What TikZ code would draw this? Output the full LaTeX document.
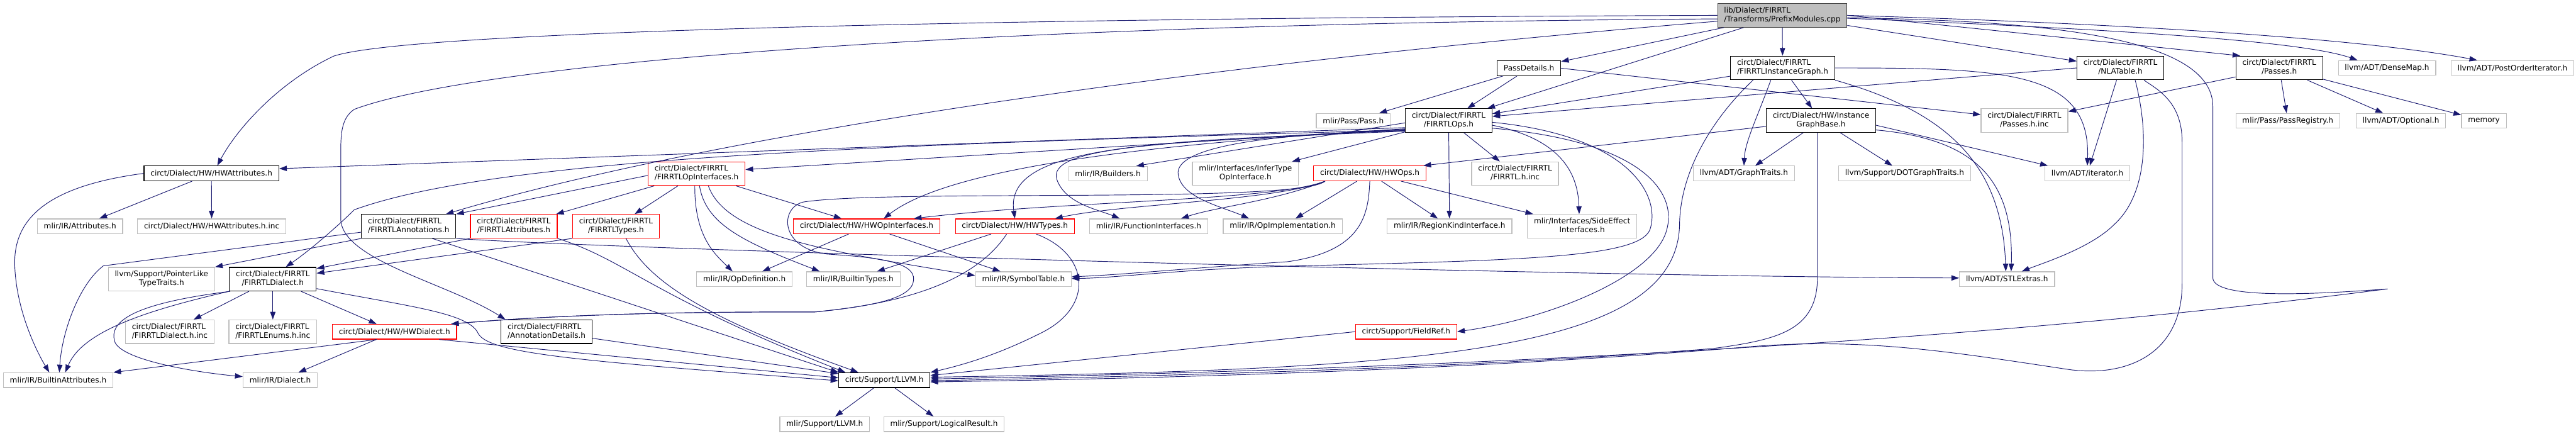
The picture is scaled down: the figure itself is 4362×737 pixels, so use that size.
\documentclass[tikz,border=0pt]{standalone}
\usepackage{fontspec}
\setmainfont{DejaVu Sans}
\usetikzlibrary{arrows.meta}
\definecolor{edgeblue}{HTML}{191970}
\definecolor{extgray}{HTML}{BFBFBF}
\definecolor{rootfill}{HTML}{BFBFBF}
\definecolor{rootline}{HTML}{404040}
\definecolor{truncred}{HTML}{FF0000}
% first line left, last line centred (as in the graph labels)
\newcommand{\flab}[2]{\begin{tabular}{@{}l@{}}#1\\\multicolumn{1}{@{}c@{}}{#2}\end{tabular}}

\begin{document}
\begin{tikzpicture}[x=1pt, y=-1pt,
  every node/.style={draw, rectangle, fill=white, line width=1.3pt, inner xsep=11pt, inner ysep=3pt,
    minimum height=25pt, font=\fontsize{12.9}{15}\selectfont},
  doc/.style={draw=black},
  ext/.style={draw=extgray},
  trunc/.style={draw=truncred},
  two/.style={minimum height=40pt},
  rootfile/.style={draw=rootline, fill=rootfill},
  dep/.style={draw=edgeblue, line width=1pt, -{Triangle[length=13pt,width=9pt]}}
]
\useasboundingbox (0,0) rectangle (4362,737);

\node[rootfile, two] (root) at (3018,26) {\flab{lib/Dialect/FIRRTL}{/Transforms/PrefixModules.cpp}};

\node[doc] (passDetails) at (2589,115.5) {PassDetails.h};
\node[doc, two] (instGraph) at (3018.5,115) {\flab{circt/Dialect/FIRRTL}{/FIRRTLInstanceGraph.h}};
\node[doc, two] (nlaTable) at (3590.5,115) {\flab{circt/Dialect/FIRRTL}{/NLATable.h}};
\node[doc, two] (passes) at (3859.5,115) {\flab{circt/Dialect/FIRRTL}{/Passes.h}};
\node[ext] (denseMap) at (4042,115) {llvm/ADT/DenseMap.h};
\node[ext] (postOrder) at (4254.5,115) {llvm/ADT/PostOrderIterator.h};

\node[ext] (pass) at (2291.5,204.5) {mlir/Pass/Pass.h};
\node[doc, two] (firOps) at (2453,204) {\flab{circt/Dialect/FIRRTL}{/FIRRTLOps.h}};
\node[doc, two] (instGraphBase) at (3083.5,204) {\flab{circt/Dialect/HW/Instance}{GraphBase.h}};
\node[ext, two] (passesInc) at (3428,204) {\flab{circt/Dialect/FIRRTL}{/Passes.h.inc}};
\node[ext] (passRegistry) at (3874,204.5) {mlir/Pass/PassRegistry.h};
\node[ext] (optional) at (4065.5,204.5) {llvm/ADT/Optional.h};
\node[ext] (memory) at (4206,204.5) {memory};

\node[doc] (hwAttr) at (358,293.5) {circt/Dialect/HW/HWAttributes.h};
\node[trunc, two] (firOpIf) at (1179.5,294) {\flab{circt/Dialect/FIRRTL}{/FIRRTLOpInterfaces.h}};
\node[ext] (builders) at (1876,294) {mlir/IR/Builders.h};
\node[ext, two] (inferType) at (2109,294) {\flab{mlir/Interfaces/InferType}{OpInterface.h}};
\node[trunc] (hwOps) at (2319.5,293.5) {circt/Dialect/HW/HWOps.h};
\node[ext, two] (firInc) at (2565.5,294) {\flab{circt/Dialect/FIRRTL}{/FIRRTL.h.inc}};
\node[ext] (graphTraits) at (2953,293.5) {llvm/ADT/GraphTraits.h};
\node[ext] (dotTraits) at (3225,293.5) {llvm/Support/DOTGraphTraits.h};
\node[ext] (iterator) at (3534.5,293.5) {llvm/ADT/iterator.h};

\node[ext] (attributes) at (135.5,383) {mlir/IR/Attributes.h};
\node[ext] (hwAttrInc) at (358.5,383) {circt/Dialect/HW/HWAttributes.h.inc};
\node[doc, two] (firAnno) at (692,383) {\flab{circt/Dialect/FIRRTL}{/FIRRTLAnnotations.h}};
\node[trunc, two] (firAttr) at (870,383) {\flab{circt/Dialect/FIRRTL}{/FIRRTLAttributes.h}};
\node[trunc, two] (firTypes) at (1043,383) {\flab{circt/Dialect/FIRRTL}{/FIRRTLTypes.h}};
\node[trunc] (hwOpIf) at (1467.5,383) {circt/Dialect/HW/HWOpInterfaces.h};
\node[trunc] (hwTypes) at (1718.5,383) {circt/Dialect/HW/HWTypes.h};
\node[ext] (funcIf) at (1945,383) {mlir/IR/FunctionInterfaces.h};
\node[ext] (opImpl) at (2172,383) {mlir/IR/OpImplementation.h};
\node[ext] (regionKind) at (2454.5,383) {mlir/IR/RegionKindInterface.h};
\node[ext, two] (sideEffect) at (2679,383) {\flab{mlir/Interfaces/SideEffect}{Interfaces.h}};

\node[ext, two] (ptrTraits) at (273.5,472.5) {\flab{llvm/Support/PointerLike}{TypeTraits.h}};
\node[doc, two] (firDialect) at (462,472.5) {\flab{circt/Dialect/FIRRTL}{/FIRRTLDialect.h}};
\node[ext] (opDef) at (1260.5,472.5) {mlir/IR/OpDefinition.h};
\node[ext] (builtinTypes) at (1445,472.5) {mlir/IR/BuiltinTypes.h};
\node[ext] (symTable) at (1733,472.5) {mlir/IR/SymbolTable.h};
\node[ext] (stlExtras) at (3398.5,472.5) {llvm/ADT/STLExtras.h};

\node[ext, two] (firDialectInc) at (287.5,561.5) {\flab{circt/Dialect/FIRRTL}{/FIRRTLDialect.h.inc}};
\node[ext, two] (firEnums) at (462,561.5) {\flab{circt/Dialect/FIRRTL}{/FIRRTLEnums.h.inc}};
\node[trunc] (hwDialect) at (668,561.5) {circt/Dialect/HW/HWDialect.h};
\node[doc, two] (annoDetails) at (925.5,561.5) {\flab{circt/Dialect/FIRRTL}{/AnnotationDetails.h}};
\node[trunc] (fieldRef) at (2381,561.5) {circt/Support/FieldRef.h};

\node[ext] (builtinAttr) at (98.5,643.5) {mlir/IR/BuiltinAttributes.h};
\node[ext] (dialect) at (474.5,643.5) {mlir/IR/Dialect.h};
\node[doc] (circtLLVM) at (1497.5,643.5) {circt/Support/LLVM.h};

\node[ext] (mlirLLVM) at (1396.5,718) {mlir/Support/LLVM.h};
\node[ext] (logicalResult) at (1598.5,718) {mlir/Support/LogicalResult.h};

% short include edges: straight, centre to centre
\foreach \a/\b in {root/passDetails, root/firOps, root/instGraph, root/nlaTable,
  passDetails/pass, passDetails/firOps, instGraph/firOps, instGraph/instGraphBase,
  nlaTable/iterator, passes/passesInc, passes/passRegistry, passes/optional, passes/memory,
  instGraphBase/graphTraits, instGraphBase/dotTraits, hwAttr/attributes, hwAttr/hwAttrInc,
  firOps/firInc, firOps/inferType, firOps/regionKind, firOpIf/firAttr, firOpIf/firTypes,
  firOpIf/hwOpIf, hwOps/opImpl, hwOps/regionKind, hwOps/sideEffect, hwOpIf/opDef,
  hwOpIf/symTable, hwTypes/builtinTypes, firDialect/firDialectInc, firDialect/firEnums,
  firDialect/hwDialect, hwDialect/dialect, annoDetails/circtLLVM,
  circtLLVM/mlirLLVM, circtLLVM/logicalResult}
  \draw[dep] (\a) -- (\b);

% root file
\draw[dep] (root.east) -- ([xshift=8pt]passes.north west);
\draw[dep] ([yshift=-5pt]root.east) .. controls (3600,50) and (3900,70) .. ([xshift=-50pt]denseMap.north);
\draw[dep] (root.east) .. controls (3600,40) and (4000,65) .. ([xshift=-60pt]postOrder.north);
\draw[dep] (root.west) .. controls (1800,30) and (700,50) .. (565,95)
  .. controls (470,140) and (400,220) .. ([xshift=10pt]hwAttr.north);
\draw[dep] ([yshift=-10pt]root.west) .. controls (2000,110) and (1200,230) .. ([xshift=63pt]firAnno.north);
\draw[dep] ([yshift=-6pt]root.west) .. controls (1600,40) and (800,110) .. (600,185)
  .. controls (577,200) and (577,230) .. (577,260) -- (577,370)
  .. controls (577,440) and (760,480) .. ([xshift=8pt]annoDetails.north west);
\draw[dep] ([yshift=-4pt]root.east) .. controls (3450,35) and (3747,60) .. (3747,180) -- (3747,470)
  .. controls (3747,505) and (3900,500) .. (4043,489)
  .. controls (3300,585) and (2400,625) .. ([yshift=2pt]circtLLVM.east);

% PassDetails.h, instance graph, NLA table
\draw[dep] (passDetails.east) -- ([yshift=10pt]passesInc.west);
\draw[dep] ([xshift=-20pt]instGraph.south) .. controls (2975,200) and (2955,240) .. (graphTraits.north);
\draw[dep] (instGraph.east) .. controls (3400,115) and (3540,120) .. (iterator.north);
\draw[dep] (instGraph.south east) .. controls (3300,190) and (3390,280) .. ([xshift=-2pt]stlExtras.north);
\draw[dep] ([xshift=-50pt]instGraph.south) .. controls (2900,200) and (2845,290) .. (2844,380)
  .. controls (2840,600) and (2400,625) .. ([yshift=5pt]circtLLVM.east);
\draw[dep] (nlaTable.west) -- ([yshift=7pt]firOps.east);
\draw[dep] ([xshift=25pt]nlaTable.south) .. controls (3640,230) and (3635,330) .. (3580,380)
  .. controls (3540,420) and (3460,445) .. ([xshift=25pt]stlExtras.north);
\draw[dep] ([xshift=40pt]nlaTable.south) .. controls (3650,150) and (3695,170) .. (3695,240) -- (3695,480)
  .. controls (3695,600) and (3600,640) .. (3500,625)
  .. controls (3300,595) and (3150,570) .. (2950,588)
  .. controls (2500,625) and (2000,640) .. ([yshift=-3pt]circtLLVM.east);
\draw[dep] ([yshift=-10pt]instGraphBase.west) -- ([xshift=-5pt]hwOps.north east);
\draw[dep] ([yshift=-8pt]instGraphBase.east) -- ([xshift=-67pt]iterator.north);
\draw[dep] ([yshift=-16pt]instGraphBase.east) .. controls (3340,235) and (3410,300) .. ([xshift=7pt]stlExtras.north);
\draw[dep] ([xshift=-6pt]instGraphBase.south) -- (3077.5,470) .. controls (3077,560) and (3010,575) .. (2900,590)
  .. controls (2500,622) and (2000,636) .. ([yshift=-1pt]circtLLVM.east);

% FIRRTLOps.h
\draw[dep] ([yshift=-12pt]firOps.west) -- ([yshift=8pt]hwAttr.east);
\draw[dep] ([yshift=-14pt]firOps.west) -- ([yshift=7pt]firOpIf.east);
\draw[dep] ([yshift=-16pt]firOps.west) .. controls (1500,245) and (850,265) .. (600,355)
  .. controls (580,375) and (530,420) .. ([xshift=22pt]firDialect.north);
\draw[dep] ([yshift=-4pt]firOps.west) -- ([xshift=48pt]builders.north);
\draw[dep] ([yshift=-15pt]firOps.west) .. controls (1900,245) and (1600,290) .. ([xshift=29pt]hwOpIf.north);
\draw[dep] ([yshift=-17pt]firOps.west) .. controls (1950,240) and (1700,245) .. (hwTypes.north);
\draw[dep] ([yshift=-18pt]firOps.west) .. controls (1950,240) and (1770,250) .. (1790,305)
  .. controls (1805,345) and (1860,355) .. ([xshift=-49pt]funcIf.north);
\draw[dep] ([yshift=-17pt]firOps.west) .. controls (2080,228) and (1990,260) .. (1995,295)
  .. controls (2000,335) and (2070,350) .. ([xshift=-57pt]opImpl.north);
\draw[dep] ([yshift=-8pt]firOps.east) .. controls (2640,235) and (2672,290) .. ([xshift=-5pt]sideEffect.north);
\draw[dep] ([yshift=-3pt]firOps.east) .. controls (2760,230) and (2810,330) .. (2795,385)
  .. controls (2785,435) and (2600,440) .. (2200,450)
  .. controls (2000,455) and (1900,470) .. ([yshift=1pt]symTable.east);
\draw[dep] ([yshift=-13pt]firOps.east) .. controls (2790,240) and (2840,330) .. (2822,390)
  .. controls (2800,470) and (2620,540) .. (fieldRef.east);

% HWOps.h
\draw[dep] ([xshift=20pt]hwOps.south west) .. controls (2160,340) and (1800,340) .. ([xshift=80pt]hwOpIf.north);
\draw[dep] ([xshift=20pt]hwOps.south west) .. controls (2160,340) and (1900,345) .. ([xshift=68pt]hwTypes.north);
\draw[dep] ([xshift=20pt]hwOps.south west) .. controls (2160,340) and (2060,350) .. ([xshift=55pt]funcIf.north);
\draw[dep] ([xshift=20pt]hwOps.south west) .. controls (2200,345) and (1500,320) .. (1360,342)
  .. controls (1320,352) and (1320,420) .. (1400,430)
  .. controls (1470,435) and (1550,440) .. (1547,474)
  .. controls (1545,505) and (1480,518) .. (1380,528)
  .. controls (1250,528) and (1000,528) .. ([xshift=-10pt]hwDialect.north east);
\draw[dep] (hwOps.south) .. controls (2317,360) and (2310,425) .. (2180,443)
  .. controls (2000,455) and (1900,465) .. ([yshift=4pt]symTable.east);

% HWTypes.h, HWAttributes.h, interfaces
\draw[dep] ([xshift=-14pt]hwTypes.south) .. controls (1650,480) and (1520,515) .. (1380,528)
  .. controls (1250,528) and (1000,528) .. ([xshift=-10pt]hwDialect.north east);
\draw[dep] ([xshift=36pt]hwTypes.south) .. controls (1845,430) and (1855,520) .. (1760,565)
  .. controls (1680,605) and (1620,620) .. (circtLLVM.north east);
\draw[dep] (hwAttr.west) .. controls (80,315) and (22,370) .. (25,450)
  .. controls (28,530) and (65,600) .. ([xshift=-15pt]builtinAttr.north);
\draw[dep] ([yshift=-3pt]firOpIf.west) -- (firAnno.north east);
\draw[dep] ([xshift=-3pt]firOpIf.south) .. controls (1176,400) and (1210,430) .. ([xshift=-20pt]opDef.north);
\draw[dep] ([xshift=5pt]firOpIf.south) .. controls (1195,380) and (1260,410) .. ([xshift=-57pt]builtinTypes.north);
\draw[dep] ([xshift=20pt]firOpIf.south) .. controls (1230,400) and (1400,425) .. ([yshift=6pt]symTable.west);

% FIRRTL annotations, attributes, types
\draw[dep] ([yshift=-10pt]firAnno.west) -- (175,450) .. controls (135,480) and (105,560) .. ([xshift=2pt]builtinAttr.north);
\draw[dep] (firAnno.south west) -- (ptrTraits.north east);
\draw[dep] (firAnno.south east) .. controls (1000,420) and (2600,468) .. ([yshift=2pt]stlExtras.west);
\draw[dep] ([xshift=40pt]firAnno.south) -- (circtLLVM.north west);
\draw[dep] (firAttr.south west) -- ([yshift=18pt]firDialect.east);
\draw[dep] (firTypes.south west) -- ([yshift=10pt]firDialect.east);
\draw[dep] (firAttr.south east) .. controls (1060,440) and (1100,500) .. ([xshift=12pt]circtLLVM.north west);
\draw[dep] ([xshift=17pt]firTypes.south) .. controls (1100,480) and (1200,540) .. ([xshift=-44pt]circtLLVM.north);

% dialects
\draw[dep] (firDialect.south west) .. controls (250,525) and (140,560) .. ([xshift=12pt]builtinAttr.north);
\draw[dep] ([xshift=2pt]firDialect.south west) .. controls (240,512) and (180,540) .. (195,580)
  .. controls (210,610) and (330,630) .. ([yshift=6pt]dialect.west);
\draw[dep] ([yshift=-16pt]firDialect.east) .. controls (700,520) and (795,530) .. (810,565)
  .. controls (830,600) and (1000,612) .. ([yshift=-1pt]circtLLVM.west);
\draw[dep] ([xshift=-30pt]hwDialect.south) -- (builtinAttr.north east);
\draw[dep] ([xshift=-30pt]hwDialect.south east) -- ([yshift=4pt]circtLLVM.west);
\draw[dep] (fieldRef.west) -- ([yshift=8pt]circtLLVM.east);
\end{tikzpicture}
\end{document}
